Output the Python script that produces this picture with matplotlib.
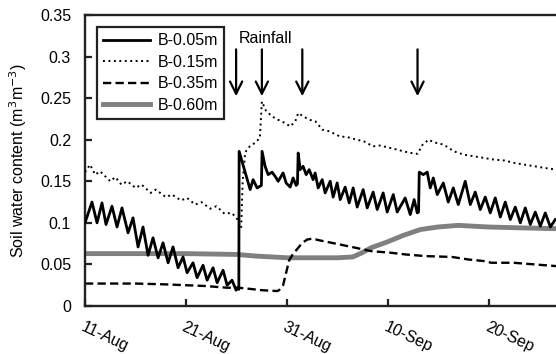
import numpy as np
import matplotlib
matplotlib.use('Agg')
from matplotlib import pyplot as plt
from matplotlib.transforms import ScaledTranslation

plt.rcParams['font.family'] = ['Liberation Sans', 'DejaVu Sans']

# days counted from 11-Aug
d05 = [0.0, 0.69, 1.19, 1.68, 2.08, 2.67, 3.17, 3.66, 4.26, 4.75, 5.25, 5.74, 6.24, 6.73,
       7.23, 7.72, 8.22, 8.71, 9.21, 9.70, 10.10, 10.69, 11.09, 11.68, 12.08, 12.67, 13.07,
       13.66, 14.06, 14.55, 14.95, 15.15, 15.22, 15.25, 16.34, 16.63, 17.03, 17.45, 17.52,
       17.82, 18.12, 18.51, 18.81, 19.11, 19.60, 19.90, 20.30, 20.59, 20.89, 21.02, 21.09,
       21.29, 21.58, 21.88, 22.18, 22.57, 22.77, 23.07, 23.47, 23.76, 24.26, 24.55, 24.95,
       25.25, 25.74, 26.14, 26.53, 26.93, 27.52, 27.92, 28.51, 28.91, 29.50, 29.90, 30.50,
       30.89, 31.68, 32.18, 32.57, 32.87, 33.00, 33.07, 33.47, 33.86, 34.16, 34.46, 34.85,
       35.45, 35.94, 36.44, 36.93, 37.62, 38.12, 38.61, 39.11, 39.60, 40.10, 40.59, 41.09,
       41.58, 42.08, 42.57, 43.07, 43.56, 44.06, 44.55, 45.05, 45.54, 46.04, 46.53]
v05 = [0.100, 0.125, 0.100, 0.124, 0.098, 0.120, 0.095, 0.118, 0.088, 0.106, 0.071, 0.095, 0.061, 0.082,
       0.058, 0.076, 0.052, 0.071, 0.046, 0.059, 0.040, 0.052, 0.034, 0.049, 0.031, 0.046, 0.028,
       0.043, 0.025, 0.031, 0.019, 0.022, 0.020, 0.186, 0.140, 0.152, 0.142, 0.145, 0.186,
       0.168, 0.158, 0.161, 0.156, 0.150, 0.160, 0.148, 0.143, 0.154, 0.145, 0.147, 0.184,
       0.164, 0.168, 0.158, 0.164, 0.152, 0.160, 0.142, 0.152, 0.136, 0.150, 0.131, 0.148,
       0.128, 0.143, 0.124, 0.142, 0.119, 0.140, 0.118, 0.137, 0.116, 0.136, 0.113, 0.134,
       0.113, 0.130, 0.110, 0.128, 0.112, 0.113, 0.161, 0.158, 0.161, 0.142, 0.154, 0.134,
       0.148, 0.125, 0.142, 0.122, 0.150, 0.122, 0.137, 0.116, 0.131, 0.112, 0.130, 0.107,
       0.125, 0.104, 0.119, 0.100, 0.118, 0.098, 0.113, 0.096, 0.112, 0.095, 0.104]

d15 = [0.0, 0.5, 1.0, 1.5, 2.5, 3.0, 3.6, 4.2, 5.0, 5.6, 6.5, 7.0, 8.0, 8.6, 9.5, 10.1, 10.9,
       11.5, 12.4, 13.0, 13.8, 14.5, 15.0, 15.45, 15.6, 15.85, 16.3, 16.8, 17.3, 17.5, 17.9,
       18.5, 19.1, 19.8, 20.3, 20.8, 21.1, 21.6, 22.2, 22.8, 23.5, 24.2, 25.2, 26.0, 26.9,
       27.6, 28.5, 29.2, 30.9, 31.5, 32.3, 32.9, 33.4, 34.0, 34.5, 35.5, 36.5, 37.5, 38.5,
       39.5, 40.5, 41.5, 42.5, 43.5, 44.5, 45.5, 46.6]
v15 = [0.161, 0.170, 0.158, 0.162, 0.150, 0.155, 0.146, 0.150, 0.142, 0.146, 0.136, 0.140, 0.131,
       0.134, 0.127, 0.130, 0.122, 0.125, 0.117, 0.120, 0.111, 0.112, 0.106, 0.094, 0.150, 0.185,
       0.192, 0.196, 0.202, 0.246, 0.235, 0.228, 0.224, 0.220, 0.216, 0.222, 0.232, 0.228, 0.224,
       0.222, 0.212, 0.210, 0.204, 0.203, 0.200, 0.198, 0.192, 0.193, 0.188, 0.186, 0.184, 0.183,
       0.194, 0.200, 0.197, 0.194, 0.186, 0.182, 0.180, 0.178, 0.176, 0.175, 0.172, 0.170, 0.168,
       0.166, 0.164]

d35 = [0, 5, 8, 10, 12, 14, 15.2, 16, 17.5, 19, 19.2, 19.6, 19.9, 20.2, 20.6, 21.1, 21.5, 22.0,
       22.5, 23.2, 24.4, 26.4, 28.3, 30.3, 31.7, 33.7, 36.3, 37.9, 39.5, 40.2, 42.4, 44.5, 46.6]
v35 = [0.027, 0.027, 0.026, 0.025, 0.024, 0.022, 0.022, 0.021, 0.019, 0.018, 0.019, 0.025, 0.040,
       0.055, 0.063, 0.070, 0.076, 0.080, 0.081, 0.079, 0.076, 0.071, 0.066, 0.064, 0.062, 0.060,
       0.059, 0.056, 0.054, 0.052, 0.052, 0.050, 0.048]

d60 = [0, 10, 15, 17, 20, 25, 26.5, 27.4, 28.3, 29.9, 31.5, 33.2, 34.9, 36.9, 39.9, 43.1, 46.6]
v60 = [0.063, 0.063, 0.062, 0.060, 0.058, 0.058, 0.059, 0.064, 0.070, 0.077, 0.085, 0.092, 0.095,
       0.097, 0.095, 0.094, 0.093]

tick_days = [0, 10, 20, 30, 40]
tick_labels = ['11-Aug', '21-Aug', '31-Aug', '10-Sep', '20-Sep']
rain_days = [14.95, 17.5, 21.5, 32.9]

fs = 11.5

fig = plt.figure(figsize=(5.56, 3.54), dpi=100)
ax = fig.add_axes([85/556, 48/354, 471/556, 291/354])

ax.plot(d60, v60, color='#808080', lw=3.5, label='B-0.60m', zorder=1)
ax.plot(d35, v35, color='black', lw=1.7, ls=(0, (3.5, 1.8)), label='B-0.35m', zorder=2)
ax.plot(d15, v15, color='black', lw=1.4, ls=(0, (1, 1.8)), label='B-0.15m', zorder=3)
ax.plot(d05, v05, color='black', lw=2.0, label='B-0.05m', zorder=4)

for d in rain_days:
    ax.annotate('', xy=(d, 0.249), xytext=(d, 0.312),
                arrowprops=dict(arrowstyle='->', lw=1.6, color='black', mutation_scale=22))
ax.text(15.2, 0.322, 'Rainfall', fontsize=fs, va='center', ha='left')

ax.set_xlim(0, 46.6)
ax.set_ylim(0, 0.35)
ax.set_yticks([0, 0.05, 0.1, 0.15, 0.2, 0.25, 0.3, 0.35])
ax.set_yticklabels(['0', '0.05', '0.1', '0.15', '0.2', '0.25', '0.3', '0.35'])
ax.set_xticks(tick_days)
ax.set_xticklabels(tick_labels, rotation=-25, ha='left', va='top', rotation_mode='anchor')
for lab in ax.get_xticklabels():
    lab.set_transform(lab.get_transform() + ScaledTranslation(3/100, 0, fig.dpi_scale_trans))

ax.tick_params(direction='in', length=5, width=1.6, labelsize=fs, color='#222222')
ax.tick_params(axis='y', pad=10)
ax.tick_params(axis='x', pad=10)
for s in ['left', 'bottom', 'top']:
    ax.spines[s].set_linewidth(1.7)
    ax.spines[s].set_color('#222222')
ax.spines['right'].set_visible(False)

ax.set_ylabel('Soil water content (m$^3$m$^{-3}$)', fontsize=fs, labelpad=8)

handles, labels = ax.get_legend_handles_labels()
order = [3, 2, 1, 0]
leg = ax.legend([handles[i] for i in order], [labels[i] for i in order],
                loc='upper left', bbox_to_anchor=(12/471, 1 - 12/291), fontsize=fs,
                fancybox=False, framealpha=1, edgecolor='#222222', handlelength=2.9,
                labelspacing=0.4, borderpad=0.4, handletextpad=0.5, borderaxespad=0)
leg.get_frame().set_linewidth(1.6)

fig.savefig('out.png', dpi=100)
